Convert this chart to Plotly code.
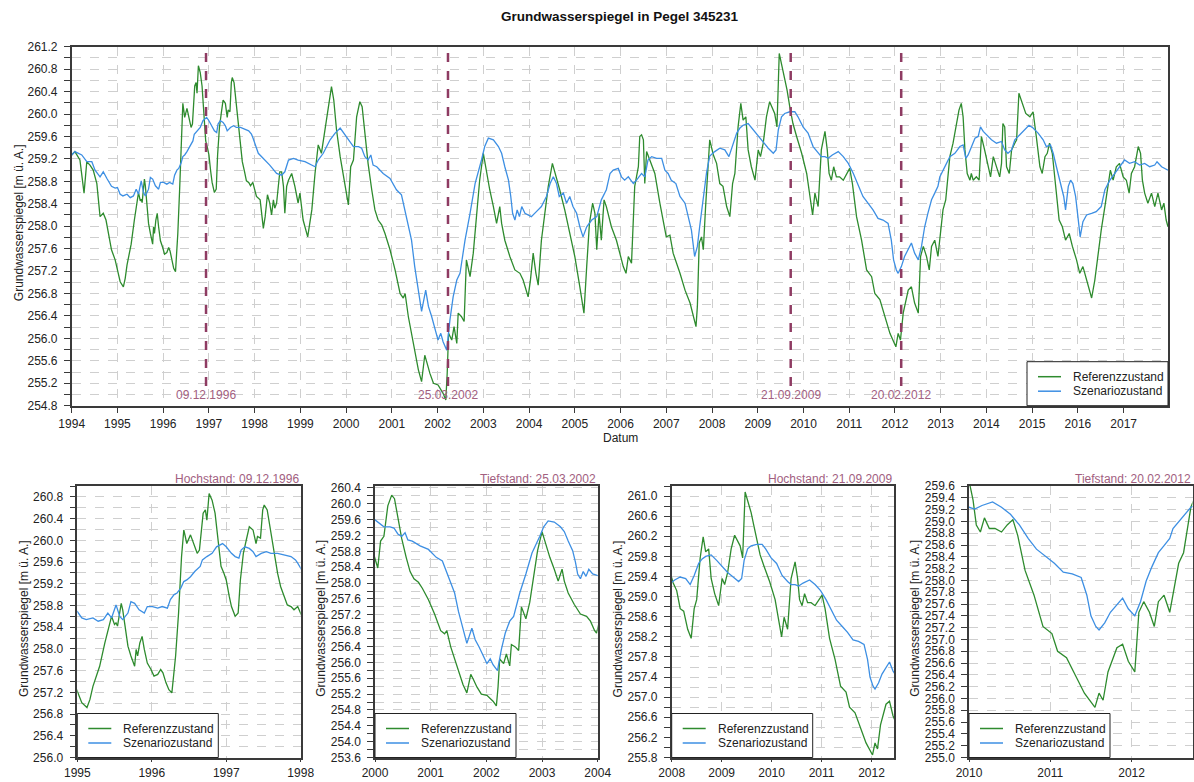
import plotly.graph_objects as go
from datetime import date

# ---------------------------------------------------------------------------
# Groundwater level at gauge 345231 (decimal years, m above datum)
# ---------------------------------------------------------------------------
ref_years = (
    [1994.00, 1994.07, 1994.18, 1994.22, 1994.27, 1994.33, 1994.40, 1994.47, 1994.55, 1994.62, 1994.69, 1994.75, 1994.87, 1994.95]
    + [1995.00, 1995.06, 1995.13, 1995.17, 1995.21, 1995.30, 1995.37, 1995.41, 1995.46, 1995.50, 1995.52, 1995.54, 1995.59, 1995.61, 1995.65, 1995.68, 1995.72, 1995.77, 1995.79, 1995.81, 1995.84, 1995.87, 1995.90, 1995.94, 1995.99]
    + [1996.03, 1996.08, 1996.12, 1996.15, 1996.19, 1996.23, 1996.27, 1996.32, 1996.36, 1996.40, 1996.43, 1996.45, 1996.47, 1996.52, 1996.56, 1996.61, 1996.64, 1996.66, 1996.69, 1996.72, 1996.74, 1996.77, 1996.81, 1996.85, 1996.89, 1996.93, 1996.97]
    + [1997.00, 1997.04, 1997.07, 1997.12, 1997.16, 1997.19, 1997.23, 1997.27, 1997.31, 1997.36, 1997.40, 1997.42, 1997.46, 1997.49, 1997.51, 1997.55, 1997.58, 1997.62, 1997.65, 1997.69, 1997.73, 1997.78, 1997.82, 1997.87, 1997.91, 1997.96]
    + [1998.04, 1998.12, 1998.15, 1998.19, 1998.23, 1998.28, 1998.33, 1998.37, 1998.41, 1998.44, 1998.48, 1998.55, 1998.59, 1998.63, 1998.66, 1998.70, 1998.74, 1998.81, 1998.88, 1998.95, 1998.99]
    + [1999.06, 1999.16, 1999.21, 1999.25, 1999.32, 1999.39, 1999.46, 1999.54, 1999.61, 1999.68, 1999.73, 1999.79, 1999.87, 1999.97]
    + [2000.05, 2000.10, 2000.16, 2000.23, 2000.30, 2000.35, 2000.41, 2000.48, 2000.56, 2000.63, 2000.70, 2000.78, 2000.85, 2000.96]
    + [2001.07, 2001.18, 2001.25, 2001.29, 2001.36, 2001.43, 2001.50, 2001.58, 2001.65, 2001.72, 2001.77, 2001.83, 2001.91]
    + [2002.01, 2002.12, 2002.18, 2002.21, 2002.24, 2002.31, 2002.36, 2002.42, 2002.45, 2002.52, 2002.58, 2002.63, 2002.71, 2002.78, 2002.85, 2002.92]
    + [2003.00, 2003.06, 2003.14, 2003.22, 2003.29, 2003.36, 2003.40, 2003.47, 2003.58, 2003.69, 2003.80, 2003.87, 2003.945, 2003.98]
    + [2004.03, 2004.09, 2004.15, 2004.20, 2004.27, 2004.35, 2004.42, 2004.51, 2004.60, 2004.67, 2004.78, 2004.89]
    + [2005.00, 2005.11, 2005.20, 2005.26, 2005.32, 2005.39, 2005.44, 2005.48, 2005.53, 2005.58, 2005.64, 2005.69, 2005.80, 2005.91, 2005.99]
    + [2006.06, 2006.12, 2006.17, 2006.24, 2006.31, 2006.39, 2006.42, 2006.46, 2006.50, 2006.53, 2006.57, 2006.64, 2006.75, 2006.86]
    + [2007.00, 2007.08, 2007.15, 2007.30, 2007.41, 2007.52, 2007.59, 2007.65, 2007.68, 2007.72, 2007.77, 2007.81, 2007.86, 2007.92, 2007.95]
    + [2008.03, 2008.10, 2008.17, 2008.24, 2008.32, 2008.39, 2008.45, 2008.50, 2008.57, 2008.63, 2008.68, 2008.74, 2008.79, 2008.86, 2008.94]
    + [2009.01, 2009.06, 2009.12, 2009.19, 2009.26, 2009.37, 2009.42, 2009.47, 2009.52, 2009.59, 2009.64, 2009.70, 2009.77, 2009.85, 2009.96]
    + [2010.07, 2010.14, 2010.20, 2010.25, 2010.32, 2010.39, 2010.47, 2010.52, 2010.56, 2010.61, 2010.66, 2010.72, 2010.79, 2010.87, 2010.94]
    + [2011.01, 2011.07, 2011.16, 2011.27, 2011.38, 2011.49, 2011.56, 2011.67, 2011.78, 2011.89]
    + [2012.02, 2012.07, 2012.12, 2012.18, 2012.29, 2012.36, 2012.43, 2012.51, 2012.56, 2012.62, 2012.69, 2012.75, 2012.80, 2012.87, 2012.94, 2012.99]
    + [2013.05, 2013.11, 2013.16, 2013.20, 2013.27, 2013.34, 2013.40, 2013.45, 2013.49, 2013.53, 2013.58, 2013.64, 2013.67, 2013.71, 2013.78, 2013.84, 2013.89, 2013.96]
    + [2014.04, 2014.09, 2014.15, 2014.22, 2014.29, 2014.33, 2014.36, 2014.40, 2014.44, 2014.50, 2014.55, 2014.62, 2014.66, 2014.71, 2014.79, 2014.86, 2014.95]
    + [2015.02, 2015.09, 2015.17, 2015.22, 2015.28, 2015.33, 2015.38, 2015.44, 2015.52, 2015.59, 2015.66, 2015.73, 2015.81, 2015.88, 2015.97]
    + [2016.04, 2016.11, 2016.19, 2016.26, 2016.30, 2016.37, 2016.44, 2016.51, 2016.59, 2016.66, 2016.71, 2016.77, 2016.84, 2016.91, 2016.99]
    + [2017.06, 2017.12, 2017.17, 2017.24, 2017.32, 2017.37, 2017.41, 2017.46, 2017.53, 2017.61, 2017.68, 2017.75, 2017.83, 2017.88, 2017.93, 2017.97]
)
ref_levels = (
    [259.27, 259.33, 259.18, 258.94, 258.59, 259.15, 259.09, 259.00, 258.76, 258.17, 258.23, 258.11, 257.58, 257.40]
    + [257.22, 257.01, 256.92, 257.07, 257.31, 257.68, 258.11, 258.35, 258.60, 258.45, 258.48, 258.42, 258.84, 258.72, 258.35, 258.05, 257.87, 257.68, 257.99, 257.87, 258.11, 258.23, 257.99, 257.74, 257.62]
    + [257.50, 257.53, 257.62, 257.56, 257.38, 257.25, 257.19, 257.87, 258.66, 259.70, 260.19, 260.07, 259.94, 260.10, 259.94, 259.76, 259.82, 260.13, 260.50, 260.56, 260.37, 260.86, 260.74, 260.50, 260.01, 259.52, 259.39]
    + [259.27, 258.97, 258.78, 258.60, 258.66, 259.27, 259.76, 260.01, 260.25, 260.19, 259.94, 260.07, 260.04, 260.56, 260.65, 260.56, 260.31, 260.01, 259.76, 259.39, 259.15, 258.97, 258.81, 258.78, 258.72, 258.78]
    + [258.53, 258.47, 258.23, 257.96, 258.17, 258.56, 258.41, 258.20, 258.47, 258.32, 258.41, 258.97, 258.97, 258.71, 258.23, 258.71, 258.82, 258.94, 258.71, 258.41, 258.59]
    + [258.11, 257.81, 258.11, 258.29, 258.94, 259.45, 259.30, 259.72, 260.07, 260.49, 260.25, 259.72, 259.24, 258.76]
    + [258.38, 259.06, 259.18, 259.95, 260.22, 260.13, 259.66, 259.12, 258.65, 258.29, 258.11, 258.02, 257.87, 257.58]
    + [257.22, 256.80, 256.72, 256.80, 256.39, 256.09, 255.79, 255.44, 255.23, 255.70, 255.56, 255.38, 255.20]
    + [255.17, 255.02, 254.90, 255.38, 256.09, 255.97, 256.21, 255.91, 256.45, 256.39, 256.30, 257.40, 257.10, 257.52, 258.23, 258.82]
    + [259.30, 259.00, 258.65, 258.35, 258.05, 258.35, 258.05, 257.75, 257.46, 257.22, 257.16, 257.04, 256.80, 256.74]
    + [257.04, 257.52, 257.16, 256.95, 257.75, 258.23, 258.71, 259.12, 258.88, 258.65, 258.29, 257.87]
    + [257.46, 256.92, 256.45, 257.28, 258.05, 258.41, 258.23, 257.58, 258.23, 257.75, 258.47, 258.35, 257.99, 257.75, 257.52]
    + [257.28, 257.16, 257.46, 257.34, 258.71, 259.06, 259.60, 259.63, 259.54, 258.76, 259.33, 259.18, 258.94, 258.41]
    + [257.81, 257.84, 257.52, 257.16, 256.86, 256.63, 256.39, 256.21, 256.57, 257.70, 257.81, 257.58, 258.35, 259.30, 259.54]
    + [259.27, 259.12, 258.76, 258.71, 258.35, 258.17, 258.76, 258.94, 259.77, 260.19, 259.89, 259.95, 259.36, 259.06, 258.82]
    + [259.36, 259.24, 259.48, 259.95, 260.22, 260.01, 259.77, 261.08, 260.90, 260.67, 260.43, 260.13, 259.83, 259.60, 259.30]
    + [258.94, 258.53, 258.20, 258.59, 258.35, 259.36, 259.69, 259.36, 258.94, 258.82, 259.06, 258.88, 258.88, 258.82, 258.94]
    + [259.03, 258.76, 258.17, 257.75, 257.22, 257.10, 256.80, 256.69, 256.39, 256.09]
    + [255.85, 256.09, 255.97, 256.45, 256.86, 256.92, 256.63, 256.45, 257.46, 257.64, 257.46, 257.22, 257.64, 257.75, 257.46, 257.87]
    + [258.29, 258.47, 258.94, 259.24, 259.48, 259.77, 260.07, 260.19, 259.95, 259.36, 258.94, 258.82, 258.94, 258.82, 258.88, 258.82, 259.60, 259.36]
    + [259.06, 258.88, 259.24, 259.06, 258.88, 259.12, 259.83, 259.77, 259.06, 258.94, 259.36, 259.48, 259.54, 260.37, 260.19, 260.01, 259.95]
    + [260.04, 259.60, 259.06, 258.94, 259.24, 259.30, 259.48, 259.30, 258.71, 258.11, 257.99, 257.75, 257.87, 257.64, 257.40]
    + [257.16, 257.28, 257.04, 256.80, 256.72, 257.04, 257.52, 257.93, 258.35, 258.76, 259.00, 258.82, 259.06, 259.12, 258.88]
    + [258.82, 258.59, 258.94, 259.06, 259.42, 259.30, 258.82, 258.59, 258.41, 258.59, 258.35, 258.59, 258.29, 258.41, 258.11, 257.99]
)

scen_years = (
    [1994.00, 1994.07, 1994.22, 1994.33, 1994.44, 1994.51, 1994.62, 1994.69, 1994.77, 1994.87, 1994.95]
    + [1995.00, 1995.06, 1995.12, 1995.21, 1995.28, 1995.35, 1995.41, 1995.46, 1995.50, 1995.52, 1995.57, 1995.61, 1995.68, 1995.72, 1995.77, 1995.83, 1995.90, 1995.94]
    + [1996.01, 1996.08, 1996.14, 1996.21, 1996.25, 1996.30, 1996.34, 1996.39, 1996.43, 1996.47, 1996.52, 1996.58, 1996.65, 1996.68, 1996.74, 1996.81, 1996.87, 1996.95]
    + [1997.00, 1997.07, 1997.12, 1997.17, 1997.20, 1997.25, 1997.31, 1997.36, 1997.40, 1997.47, 1997.54, 1997.60, 1997.69, 1997.78, 1997.87, 1997.93, 1997.96]
    + [1998.08, 1998.19, 1998.33, 1998.48, 1998.59, 1998.66, 1998.74, 1998.85, 1998.95]
    + [1999.10, 1999.25, 1999.32, 1999.39, 1999.50, 1999.65, 1999.76, 1999.87, 1999.97]
    + [2000.05, 2000.16, 2000.27, 2000.34, 2000.41, 2000.48, 2000.54, 2000.59, 2000.67, 2000.74, 2000.81, 2000.96]
    + [2001.10, 2001.21, 2001.32, 2001.43, 2001.50, 2001.58, 2001.65, 2001.74, 2001.80, 2001.87, 2001.94]
    + [2002.01, 2002.07, 2002.12, 2002.20, 2002.27, 2002.34, 2002.42, 2002.49, 2002.60, 2002.71, 2002.82, 2002.96]
    + [2003.03, 2003.11, 2003.22, 2003.33, 2003.40, 2003.47, 2003.55, 2003.60, 2003.64, 2003.69, 2003.74, 2003.79, 2003.84, 2003.91, 2003.98]
    + [2004.05, 2004.16, 2004.27, 2004.38, 2004.46, 2004.53, 2004.60, 2004.66, 2004.75, 2004.82, 2004.89, 2004.96]
    + [2005.04, 2005.11, 2005.18, 2005.26, 2005.37, 2005.48, 2005.58, 2005.69, 2005.77, 2005.84, 2005.95]
    + [2006.02, 2006.09, 2006.17, 2006.28, 2006.35, 2006.46, 2006.53, 2006.60, 2006.68, 2006.79, 2006.90, 2006.97]
    + [2007.04, 2007.11, 2007.21, 2007.30, 2007.41, 2007.48, 2007.55, 2007.62, 2007.68, 2007.73, 2007.81, 2007.88, 2007.95]
    + [2008.06, 2008.17, 2008.28, 2008.37, 2008.45, 2008.54, 2008.61, 2008.68, 2008.79, 2008.90]
    + [2009.01, 2009.12, 2009.23, 2009.34, 2009.40, 2009.45, 2009.52, 2009.59, 2009.70, 2009.81, 2009.88, 2009.99]
    + [2010.10, 2010.21, 2010.32, 2010.39, 2010.47, 2010.54, 2010.63, 2010.76, 2010.87, 2010.98]
    + [2011.09, 2011.20, 2011.30, 2011.41, 2011.52, 2011.63, 2011.74, 2011.85, 2011.92, 2011.97]
    + [2012.03, 2012.07, 2012.14, 2012.21, 2012.29, 2012.36, 2012.43, 2012.51, 2012.58, 2012.65, 2012.72, 2012.80, 2012.87, 2012.94, 2012.98]
    + [2013.09, 2013.20, 2013.31, 2013.42, 2013.49, 2013.55, 2013.60, 2013.67, 2013.75, 2013.82, 2013.87, 2013.93]
    + [2014.00, 2014.11, 2014.22, 2014.33, 2014.40, 2014.47, 2014.55, 2014.62, 2014.73, 2014.84, 2014.93]
    + [2015.02, 2015.13, 2015.24, 2015.31, 2015.40, 2015.46, 2015.53, 2015.59, 2015.64, 2015.69, 2015.73, 2015.79, 2015.84, 2015.89, 2015.95]
    + [2016.00, 2016.05, 2016.11, 2016.19, 2016.30, 2016.40, 2016.51, 2016.59, 2016.70, 2016.81, 2016.92]
    + [2017.02, 2017.13, 2017.24, 2017.35, 2017.46, 2017.57, 2017.68, 2017.73, 2017.83, 2017.97]
)
scen_levels = (
    [259.27, 259.33, 259.27, 259.15, 259.15, 259.00, 258.88, 258.97, 258.85, 258.71, 258.68]
    + [258.69, 258.57, 258.54, 258.57, 258.51, 258.54, 258.66, 258.57, 258.75, 258.81, 258.60, 258.54, 258.66, 258.87, 258.84, 258.72, 258.66, 258.78]
    + [258.78, 258.75, 258.78, 258.75, 258.91, 259.00, 259.03, 259.12, 259.24, 259.27, 259.33, 259.43, 259.52, 259.64, 259.70, 259.76, 259.88, 259.94]
    + [259.88, 259.76, 259.70, 259.67, 259.82, 259.88, 259.85, 259.79, 259.70, 259.76, 259.79, 259.76, 259.76, 259.73, 259.70, 259.64, 259.58]
    + [259.30, 259.21, 259.09, 258.94, 258.91, 258.97, 259.18, 259.21, 259.18]
    + [259.15, 259.09, 259.06, 259.18, 259.30, 259.54, 259.66, 259.75, 259.63]
    + [259.54, 259.42, 259.42, 259.39, 259.24, 259.18, 259.27, 259.09, 259.06, 259.00, 258.94, 258.85]
    + [258.65, 258.56, 258.17, 257.75, 257.28, 256.86, 256.48, 256.86, 256.57, 256.39, 256.18]
    + [255.97, 256.09, 255.94, 255.79, 256.33, 256.74, 257.04, 257.16, 257.75, 258.23, 258.76, 259.18]
    + [259.42, 259.57, 259.54, 259.42, 259.30, 259.06, 258.82, 258.53, 258.23, 258.11, 258.29, 258.17, 258.35, 258.23, 258.20]
    + [258.17, 258.26, 258.35, 258.53, 258.76, 258.88, 258.76, 258.53, 258.59, 258.41, 258.53, 258.35]
    + [258.23, 257.99, 257.81, 257.99, 258.11, 258.17, 258.47, 258.65, 258.94, 259.00, 259.03]
    + [258.88, 258.82, 258.88, 258.76, 258.82, 258.94, 258.88, 259.18, 259.24, 259.21, 259.21, 259.00]
    + [258.94, 258.82, 258.76, 258.53, 258.41, 258.17, 257.93, 257.46, 257.64, 257.99, 258.55, 258.95, 259.25]
    + [259.33, 259.39, 259.36, 259.24, 259.42, 259.66, 259.75, 259.80, 259.83, 259.72]
    + [259.60, 259.48, 259.39, 259.30, 259.36, 259.72, 259.95, 260.01, 260.04, 260.04, 259.95, 259.77]
    + [259.66, 259.42, 259.30, 259.24, 259.24, 259.21, 259.27, 259.33, 259.24, 259.12]
    + [258.94, 258.71, 258.53, 258.41, 258.29, 258.14, 258.11, 258.05, 257.75, 257.40]
    + [257.22, 257.16, 257.28, 257.46, 257.58, 257.70, 257.52, 257.40, 257.64, 257.99, 258.23, 258.47, 258.59, 258.71, 258.88]
    + [259.06, 259.24, 259.30, 259.42, 259.45, 259.21, 259.27, 259.42, 259.57, 259.60, 259.77, 259.69]
    + [259.63, 259.54, 259.48, 259.51, 259.36, 259.30, 259.36, 259.54, 259.63, 259.72, 259.80]
    + [259.75, 259.66, 259.54, 259.42, 259.45, 259.30, 259.06, 258.88, 258.71, 258.53, 258.29, 258.71, 258.82, 258.76, 258.53]
    + [258.17, 257.81, 258.08, 258.20, 258.23, 258.26, 258.35, 258.65, 258.82, 258.94, 259.06]
    + [259.18, 259.12, 259.15, 259.09, 259.12, 259.06, 259.09, 259.15, 259.06, 259.00]
)
assert len(ref_years) == len(ref_levels), (len(ref_years), len(ref_levels))
assert len(scen_years) == len(scen_levels), (len(scen_years), len(scen_levels))

series_names = ["Referenzzustand", "Szenariozustand"]

# Marked extremes (date, kind)
event_dates = ["09.12.1996", "25.03.2002", "21.09.2009", "20.02.2012"]
event_kinds = ["Hochstand", "Tiefstand", "Hochstand", "Tiefstand"]

# Year labels of the last detail panel (drawn about half a year after the label value)
last_panel_labels = [2010, 2011, 2012]
last_panel_label_shift = 0.47


def decimal_year(s):
    d, m, y = (int(p) for p in s.split("."))
    start, nxt = date(y, 1, 1), date(y + 1, 1, 1)
    return y + (date(y, m, d) - start).days / (nxt - start).days


event_pos = [decimal_year(s) for s in event_dates]

W, H = 1194, 782
FONT = "Liberation Sans, Arial, sans-serif"
GREEN = "#2e8b2e"
BLUE = "#3d8fe3"
EVENT_LINE = "#8e3b62"
EVENT_TEXT = "#a2607f"
FRAME = "#3a3a3a"
GRID = "#cfcfcf"
TEXT = "#222222"


def fx(p):
    return p / W


def fy(p):
    return 1 - p / H


# panel geometry (pixel boxes) and axis set-up
TOP_B, BOT_B = 486.0, 757.5
panels = [
    dict(box=(71.7, 1168, 46.7, 405.7), xr=[1994, 2017.97], yr=[254.8, 261.2], y0=254.8, dy=0.4, minor=0.2),
    dict(box=(77.3, 300.7, TOP_B, BOT_B), xr=[1995, 1998], yr=[256.0, 261.0], y0=256.0, dy=0.4, minor=0.2),
    dict(box=(375.0, 597.7, TOP_B, BOT_B), xr=[2000, 2004], yr=[253.6, 260.45], y0=253.6, dy=0.4, minor=0.2),
    dict(box=(671.7, 894.0, TOP_B, BOT_B), xr=[2008, 2012.45], yr=[255.8, 261.2], y0=255.8, dy=0.4, minor=0.2),
    dict(box=(969.0, 1192.5, TOP_B, BOT_B),
         xr=[last_panel_labels[0] + last_panel_label_shift, 2013.22], yr=[255.0, 259.6], y0=255.0, dy=0.2, minor=None),
]

fig = go.Figure()
layout = dict(
    width=W, height=H,
    margin=dict(l=0, r=0, t=0, b=0, autoexpand=False),
    paper_bgcolor="white", plot_bgcolor="white",
    font=dict(family=FONT, size=12, color=TEXT),
    showlegend=False,
)
annotations = []
shapes = []


def add_legend(left, top):
    """Boxed key with a short line sample per series."""
    w, h = 141, 44
    shapes.append(dict(type="rect", xref="paper", yref="paper",
                       x0=fx(left), x1=fx(left + w), y0=fy(top + h), y1=fy(top),
                       fillcolor="white", line=dict(color=TEXT, width=1)))
    for row, (name, col) in enumerate(zip(series_names, [GREEN, BLUE])):
        yc = top + 15 + row * 14.5
        shapes.append(dict(type="line", xref="paper", yref="paper",
                           x0=fx(left + 11), x1=fx(left + 34), y0=fy(yc), y1=fy(yc),
                           line=dict(color=col, width=1.5)))
        annotations.append(dict(text=name, x=fx(left + 44), y=fy(yc), xref="paper", yref="paper",
                                xanchor="left", yanchor="middle", showarrow=False,
                                font=dict(size=12, color=TEXT)))


for i, p in enumerate(panels):
    n = "" if i == 0 else str(i + 1)
    xa, ya = "x" + n, "y" + n
    x0, x1, y0, y1 = p["box"]

    for name, xs, ys, col in [(series_names[0], ref_years, ref_levels, GREEN),
                              (series_names[1], scen_years, scen_levels, BLUE)]:
        fig.add_trace(go.Scatter(
            x=xs, y=ys, mode="lines", name=name,
            line=dict(color=col, width=1.3),
            xaxis=xa, yaxis=ya, hoverinfo="skip",
        ))

    xaxis = dict(
        domain=[fx(x0), fx(x1)], range=p["xr"], anchor=ya, automargin=False,
        showline=True, linecolor=FRAME, linewidth=1.5, mirror=True,
        ticks="outside", ticklen=6 if i == 0 else 3, tickcolor=FRAME, tickwidth=1,
        showgrid=True, gridcolor=GRID, griddash="dash", gridwidth=1,
        zeroline=False, tickfont=dict(size=12, color=TEXT),
    )
    if i == 4:
        xaxis.update(tickmode="array",
                     tickvals=[v + last_panel_label_shift for v in last_panel_labels],
                     ticktext=[str(v) for v in last_panel_labels])
    else:
        xaxis.update(tickmode="linear", tick0=p["xr"][0], dtick=1, tickformat="d")

    yaxis = dict(
        domain=[fy(y1), fy(y0)], range=p["yr"], anchor=xa, automargin=False,
        showline=True, linecolor=FRAME, linewidth=1.5, mirror=True,
        ticks="outside", ticklen=6, tickcolor=FRAME, tickwidth=1,
        ticklabelstandoff=4,
        tickmode="linear", tick0=p["y0"], dtick=p["dy"], tickformat=".1f",
        showgrid=True, gridcolor=GRID, griddash="dash", gridwidth=1,
        zeroline=False, tickfont=dict(size=12, color=TEXT),
    )
    if p["minor"]:
        yaxis["minor"] = dict(tick0=p["y0"], dtick=p["minor"], ticks="outside", ticklen=6,
                              tickcolor=FRAME, showgrid=True, gridcolor=GRID, griddash="dash")
    layout["xaxis" + n] = xaxis
    layout["yaxis" + n] = yaxis

    # key
    if i == 0:
        add_legend(x1 - 141, y1 - 44)
    else:
        add_legend(x0, y1 - 44)

    # y-axis title
    title_x = 19 if i == 0 else x0 - 54
    annotations.append(dict(
        text="Grundwasserspiegel [m ü. A.]", textangle=-90,
        x=fx(title_x), y=fy((y0 + y1) / 2 - 3), xref="paper", yref="paper",
        xanchor="center", yanchor="middle",
        showarrow=False, font=dict(size=12, color=TEXT),
    ))

    if i > 0:
        k = i - 1
        annotations.append(dict(
            text=f"{event_kinds[k]}: {event_dates[k]}",
            x=1, y=1, xref=xa + " domain", yref=ya + " domain",
            xanchor="right", yanchor="bottom", yshift=-2, showarrow=False,
            font=dict(size=12, color=EVENT_TEXT),
        ))

# event markers on the overview
for pos, lab in zip(event_pos, event_dates):
    shapes.append(dict(type="line", xref="x", yref="y domain", x0=pos, x1=pos, y0=0.055, y1=1,
                       line=dict(color=EVENT_LINE, width=2.5, dash="dash")))
    annotations.append(dict(text=lab, x=pos, y=0.03, xref="x", yref="y domain",
                            xanchor="center", yanchor="middle",
                            showarrow=False, font=dict(size=12, color=EVENT_TEXT)))

annotations.append(dict(text="Datum", x=fx(620), y=fy(438), xref="paper", yref="paper",
                        xanchor="center", yanchor="middle",
                        showarrow=False, font=dict(size=12, color=TEXT)))
annotations.append(dict(text="<b>Grundwasserspiegel in Pegel 345231</b>", x=fx(620), y=fy(17),
                        xref="paper", yref="paper", xanchor="center", yanchor="middle",
                        showarrow=False, font=dict(size=13.5, color="#111111")))

layout["annotations"] = annotations
layout["shapes"] = shapes
fig.update_layout(**layout)

fig.write_html("out.html")
